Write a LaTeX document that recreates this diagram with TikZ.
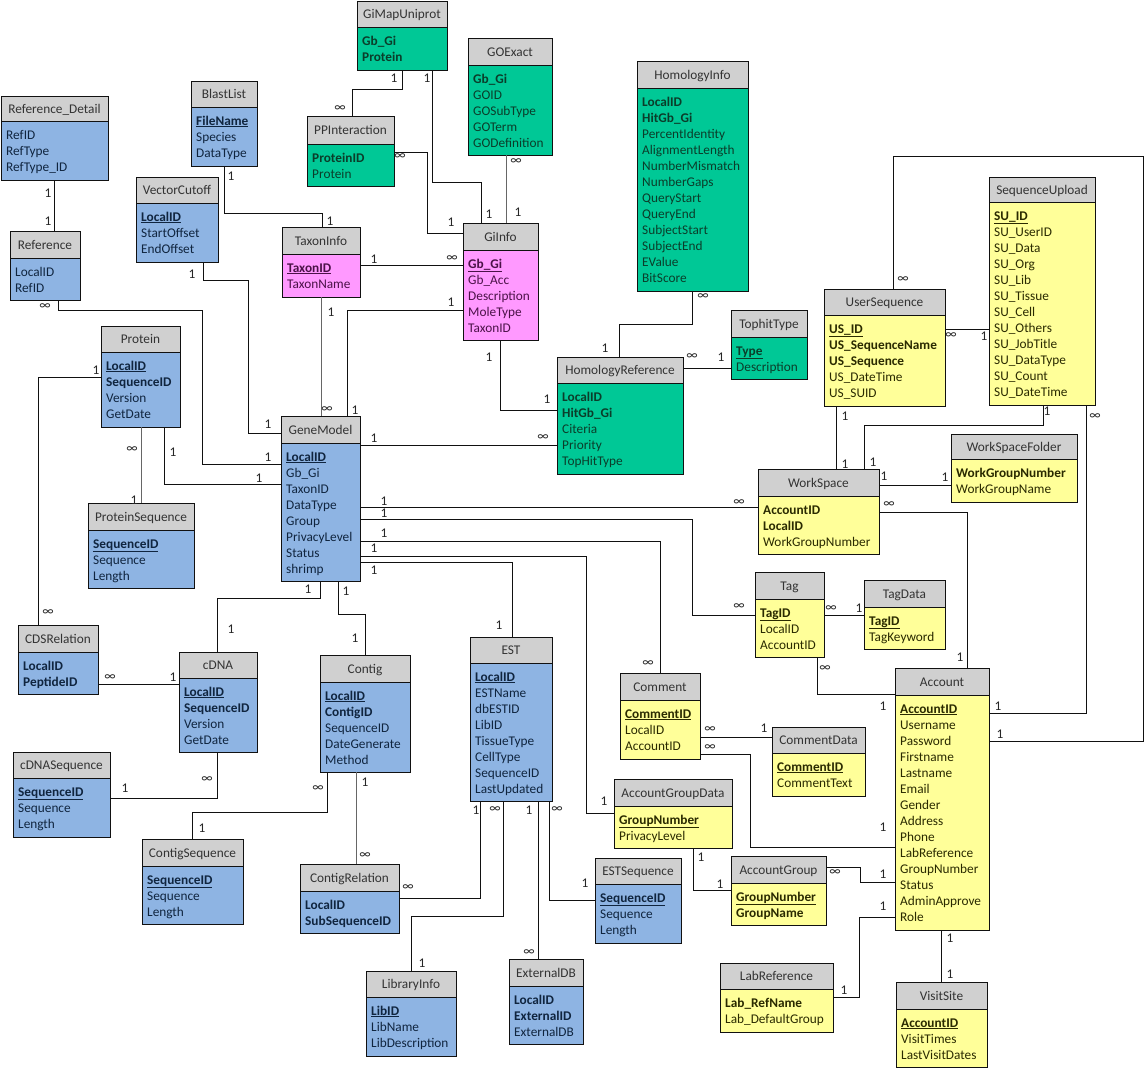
\documentclass[tikz,border=0pt]{standalone}
\usepackage{fontspec}
\setmainfont{Carlito}
\usetikzlibrary{fit}
\definecolor{bluefill}{HTML}{8EB4E3}
\definecolor{bluetext}{HTML}{10253F}
\definecolor{greenfill}{HTML}{00C896}
\definecolor{greentext}{HTML}{0B3D2A}
\definecolor{pinkfill}{HTML}{FF99FF}
\definecolor{pinktext}{HTML}{4B1248}
\definecolor{yellowfill}{HTML}{FFFF99}
\definecolor{yellowtext}{HTML}{2A2A00}
\definecolor{headfill}{HTML}{D0D0D0}
\definecolor{headtext}{HTML}{333333}
\definecolor{linecol}{HTML}{111111}
\newcommand\rown[1]{#1}
\newcommand\rowb[1]{\textbf{#1}}
\newcommand\rowu[1]{\underline{\textbf{#1}}}
\newcommand\inff{∞}
\tikzset{
 tbody/.style={inner sep=0pt, outer sep=0pt},
 tline/.style={line width=1pt, draw=linecol},
 htitle/.style={font=\fontsize{13.3}{16}\selectfont, text=headtext, inner sep=0pt, anchor=base},
 field/.style={font=\fontsize{13.3}{16}\selectfont, inner sep=0pt, anchor=base west},
 conn/.style={line width=1pt, draw=linecol},
 conng/.style={line width=1pt, draw=black!60},
 lbl/.style={font=\fontsize{13.3}{16}\selectfont, text=black!85, inner sep=0pt},
}
% #1 name, #2 x1, #3 y1, #4 x2, #5 y2, #6 header bottom, #7 colour, #8 title, #9 rows
\newcommand\mktbl[9]{%
  \node[tbody, fill=#7fill, fit={(#2,#3)(#4,#5)}] (#1) {};
  \fill[headfill] (#2,#3) rectangle (#4,#6);
  \draw[tline] (#2,#6) -- (#4,#6);
  \draw[tline] (#1.north west) rectangle (#1.south east);
  \node[htitle] (#1-t) at ({(#2+#4)/2},{(#3+#6)/2+4.5}) {#8};
  \foreach \st/\tx [count=\i from 0] in {#9} {
    \node[field, text=#7text] (#1-r\i) at ({#2+5},{#6+18+16*\i}) {\csname row\st\endcsname{\tx}};
  }%
}
\begin{document}
\begin{tikzpicture}[x=1pt,y=-1pt]
\fill[white] (0,0) rectangle (1144,1069);
\useasboundingbox (0,0) rectangle (1144,1069);

% ---------- tables ----------
\mktbl{RefDetail}{1}{96}{108}{180}{121}{blue}{Reference\_Detail}{n/RefID,n/RefType,n/RefType\_ID}
\mktbl{Reference}{10}{231}{80}{300}{258}{blue}{Reference}{n/LocalID,n/RefID}
\mktbl{BlastList}{191}{81}{257}{166}{107}{blue}{BlastList}{u/FileName,n/Species,n/DataType}
\mktbl{VectorCutoff}{136}{177}{218}{262}{203}{blue}{VectorCutoff}{u/LocalID,n/StartOffset,n/EndOffset}
\mktbl{Protein}{101}{326}{180}{427}{352}{blue}{Protein}{u/LocalID,b/SequenceID,n/Version,n/GetDate}
\mktbl{ProteinSequence}{88}{503}{194}{588}{530}{blue}{ProteinSequence}{u/SequenceID,n/Sequence,n/Length}
\mktbl{CDSRelation}{18}{625}{98}{694}{652}{blue}{CDSRelation}{b/LocalID,b/PeptideID}
\mktbl{cDNA}{179}{652}{257}{752}{678}{blue}{cDNA}{u/LocalID,b/SequenceID,n/Version,n/GetDate}
\mktbl{cDNASequence}{13}{752}{110}{837}{778}{blue}{cDNASequence}{u/SequenceID,n/Sequence,n/Length}
\mktbl{ContigSequence}{142}{839}{243}{924}{866}{blue}{ContigSequence}{u/SequenceID,n/Sequence,n/Length}
\mktbl{GiMapUniprot}{357}{1}{447}{70}{27}{green}{GiMapUniprot}{b/Gb\_Gi,b/Protein}
\mktbl{GOExact}{468}{38}{552}{155}{65}{green}{GOExact}{b/Gb\_Gi,n/GOID,n/GOSubType,n/GOTerm,n/GODefinition}
\mktbl{PPInteraction}{307}{116}{394}{186}{144}{green}{PPInteraction}{b/ProteinID,n/Protein}
\mktbl{TaxonInfo}{282}{227}{360}{297}{254}{pink}{TaxonInfo}{u/TaxonID,n/TaxonName}
\mktbl{GiInfo}{463}{223}{538}{340}{250}{pink}{GiInfo}{u/Gb\_Gi,n/Gb\_Acc,n/Description,n/MoleType,n/TaxonID}
\mktbl{HomologyInfo}{637}{61}{748}{291}{88}{green}{HomologyInfo}{b/LocalID,b/HitGb\_Gi,n/PercentIdentity,n/AlignmentLength,n/NumberMismatch,n/NumberGaps,n/QueryStart,n/QueryEnd,n/SubjectStart,n/SubjectEnd,n/EValue,n/BitScore}
\mktbl{TophitType}{731}{310}{807}{379}{337}{green}{TophitType}{u/Type,n/Description}
\mktbl{UserSequence}{824}{289}{945}{406}{315}{yellow}{UserSequence}{u/US\_ID,b/US\_SequenceName,b/US\_Sequence,n/US\_DateTime,n/US\_SUID}
\mktbl{SequenceUpload}{989}{177}{1095}{405}{202}{yellow}{SequenceUpload}{u/SU\_ID,n/SU\_UserID,n/SU\_Data,n/SU\_Org,n/SU\_Lib,n/SU\_Tissue,n/SU\_Cell,n/SU\_Others,n/SU\_JobTitle,n/SU\_DataType,n/SU\_Count,n/SU\_DateTime}
\mktbl{GeneModel}{281}{416}{360}{581}{443}{blue}{GeneModel}{u/LocalID,n/Gb\_Gi,n/TaxonID,n/DataType,n/Group,n/PrivacyLevel,n/Status,n/shrimp}
\mktbl{HomRef}{557}{357}{683}{474}{383}{green}{HomologyReference}{b/LocalID,b/HitGb\_Gi,n/Citeria,n/Priority,n/TopHitType}
\mktbl{Contig}{320}{655}{410}{772}{682}{blue}{Contig}{u/LocalID,b/ContigID,n/SequenceID,n/DateGenerate,n/Method}
\mktbl{EST}{470}{637}{552}{801}{663}{blue}{EST}{u/LocalID,n/ESTName,n/dbESTID,n/LibID,n/TissueType,n/CellType,n/SequenceID,n/LastUpdated}
\mktbl{ContigRelation}{300}{864}{399}{933}{891}{blue}{ContigRelation}{b/LocalID,b/SubSequenceID}
\mktbl{LibraryInfo}{366}{971}{456}{1056}{997}{blue}{LibraryInfo}{u/LibID,n/LibName,n/LibDescription}
\mktbl{ExternalDB}{509}{959}{583}{1044}{986}{blue}{ExternalDB}{b/LocalID,b/ExternalID,n/ExternalDB}
\mktbl{WorkSpace}{758}{469}{879}{554}{496}{yellow}{WorkSpace}{b/AccountID,b/LocalID,n/WorkGroupNumber}
\mktbl{Tag}{755}{572}{824}{657}{599}{yellow}{Tag}{u/TagID,n/LocalID,n/AccountID}
\mktbl{Comment}{620}{673}{700}{759}{700}{yellow}{Comment}{u/CommentID,n/LocalID,n/AccountID}
\mktbl{WorkSpaceFolder}{951}{434}{1077}{502}{459}{yellow}{WorkSpaceFolder}{b/WorkGroupNumber,n/WorkGroupName}
\mktbl{TagData}{864}{580}{945}{649}{607}{yellow}{TagData}{u/TagID,n/TagKeyword}
\mktbl{Account}{895}{668}{989}{930}{695}{yellow}{Account}{u/AccountID,n/Username,n/Password,n/Firstname,n/Lastname,n/Email,n/Gender,n/Address,n/Phone,n/LabReference,n/GroupNumber,n/Status,n/AdminApprove,n/Role}
\mktbl{VisitSite}{896}{982}{987}{1067}{1009}{yellow}{VisitSite}{u/AccountID,n/VisitTimes,n/LastVisitDates}
\mktbl{CommentData}{772}{727}{865}{796}{753}{yellow}{CommentData}{u/CommentID,n/CommentText}
\mktbl{AccountGroupData}{614}{779}{732}{848}{806}{yellow}{AccountGroupData}{u/GroupNumber,n/PrivacyLevel}
\mktbl{ESTSequence}{595}{858}{681}{943}{884}{blue}{ESTSequence}{u/SequenceID,n/Sequence,n/Length}
\mktbl{AccountGroup}{731}{856}{826}{925}{883}{yellow}{AccountGroup}{u/GroupNumber,b/GroupName}
\mktbl{LabReference}{720}{963}{833}{1032}{989}{yellow}{LabReference}{b/Lab\_RefName,n/Lab\_DefaultGroup}

% ---------- connectors ----------
\draw[conn] (54,0 |- RefDetail.south) -- (54,0 |- Reference.north);
\draw[conn] (58,0 |- Reference.south) -- (58,310) -- (202,310) -- (202,464) -- (GeneModel.west |- 0,464);
\draw[conn] (203,0 |- VectorCutoff.south) -- (203,280) -- (248,280) -- (248,433) -- (GeneModel.west |- 0,433);
\draw[conn] (224,0 |- BlastList.south) -- (224,213) -- (322,213) -- (322,0 |- TaxonInfo.north);
\draw[conn] (164,0 |- Protein.south) -- (164,484) -- (GeneModel.west |- 0,484);
\draw[conng] (141,0 |- Protein.south) -- (141,0 |- ProteinSequence.north);
\draw[conn] (Protein.west |- 0,377) -- (38,377) -- (38,0 |- CDSRelation.north);
\draw[conn] (CDSRelation.east |- 0,684) -- (cDNA.west |- 0,684);
\draw[conn] (320,0 |- GeneModel.south) -- (320,598) -- (217,598) -- (217,0 |- cDNA.north);
\draw[conn] (338,0 |- GeneModel.south) -- (338,614) -- (365,614) -- (365,0 |- Contig.north);
\draw[conn] (217,0 |- cDNA.south) -- (217,798) -- (cDNASequence.east |- 0,798);
\draw[conn] (327,0 |- Contig.south) -- (327,812) -- (192,812) -- (192,0 |- ContigSequence.north);
\draw[conng] (356,0 |- Contig.south) -- (356,0 |- ContigRelation.north);
\draw[conn] (480,0 |- EST.south) -- (480,898) -- (ContigRelation.east |- 0,898);
\draw[conn] (503,0 |- EST.south) -- (503,916) -- (411,916) -- (411,0 |- LibraryInfo.north);
\draw[conn] (538,0 |- EST.south) -- (538,0 |- ExternalDB.north);
\draw[conn] (549,0 |- EST.south) -- (549,900) -- (ESTSequence.west |- 0,900);
\draw[conn] (GeneModel.east |- 0,562) -- (512,562) -- (512,0 |- EST.north);
\draw[conn] (GeneModel.east |- 0,445) -- (HomRef.west |- 0,445);
\draw[conn] (500,0 |- GiInfo.south) -- (500,410) -- (HomRef.west |- 0,410);
\draw[conn] (692,0 |- HomologyInfo.south) -- (692,324) -- (619,324) -- (619,0 |- HomRef.north);
\draw[conn] (HomRef.east |- 0,368) -- (TophitType.west |- 0,368);
\draw[conn] (402,0 |- GiMapUniprot.south) -- (402,89) -- (352,89) -- (352,0 |- PPInteraction.north);
\draw[conn] (432,0 |- GiMapUniprot.south) -- (432,182) -- (481,182) -- (481,0 |- GiInfo.north);
\draw[conn] (PPInteraction.east |- 0,152) -- (427,152) -- (427,233) -- (GiInfo.west |- 0,233);
\draw[conng] (506,0 |- GOExact.south) -- (506,0 |- GiInfo.north);
\draw[conn] (TaxonInfo.east |- 0,265) -- (GiInfo.west |- 0,265);
\draw[conng] (321,0 |- TaxonInfo.south) -- (321,0 |- GeneModel.north);
\draw[conn] (GiInfo.west |- 0,310) -- (347,310) -- (347,0 |- GeneModel.north);
\draw[conn] (GeneModel.east |- 0,507) -- (WorkSpace.west |- 0,507);
\draw[conn] (GeneModel.east |- 0,519) -- (692,519) -- (692,615) -- (Tag.west |- 0,615);
\draw[conn] (GeneModel.east |- 0,541) -- (660,541) -- (660,0 |- Comment.north);
\draw[conn] (GeneModel.east |- 0,556) -- (586,556) -- (586,813) -- (AccountGroupData.west |- 0,813);
\draw[conn] (Tag.east |- 0,615) -- (TagData.west |- 0,615);
\draw[conn] (817,0 |- Tag.south) -- (817,694) -- (Account.west |- 0,694);
\draw[conn] (WorkSpace.east |- 0,512) -- (967,512) -- (967,0 |- Account.north);
\draw[conn] (WorkSpace.east |- 0,485) -- (WorkSpaceFolder.west |- 0,485);
\draw[conn] (836,0 |- UserSequence.south) -- (836,0 |- WorkSpace.north);
\draw[conn] (1043,0 |- SequenceUpload.south) -- (1043,425) -- (864,425) -- (864,0 |- WorkSpace.north);
\draw[conn] (UserSequence.east |- 0,329) -- (SequenceUpload.west |- 0,329);
\draw[conn] (893,0 |- UserSequence.north) -- (893,156) -- (1143,156) -- (1143,741) -- (Account.east |- 0,741);
\draw[conn] (1086,0 |- SequenceUpload.south) -- (1086,713) -- (Account.east |- 0,713);
\draw[conn] (Comment.east |- 0,737) -- (CommentData.west |- 0,737);
\draw[conn] (Comment.east |- 0,754) -- (750,754) -- (750,847) -- (Account.west |- 0,847);
\draw[conn] (693,0 |- AccountGroupData.south) -- (693,890) -- (AccountGroup.west |- 0,890);
\draw[conn] (AccountGroup.east |- 0,867) -- (860,867) -- (860,882) -- (Account.west |- 0,882);
\draw[conn] (LabReference.east |- 0,997) -- (859,997) -- (859,917) -- (Account.west |- 0,917);
\draw[conn] (941,0 |- Account.south) -- (941,0 |- VisitSite.north);

% ---------- cardinality labels ----------
\node[lbl] (m1) at (48,193) {1};
\node[lbl] (m2) at (48,221) {1};
\node[lbl] (m3) at (45,307) {\inff};
\node[lbl] (m4) at (268,457) {1};
\node[lbl] (m5) at (192,274) {1};
\node[lbl] (m6) at (268,424) {1};
\node[lbl] (m7) at (231,176) {1};
\node[lbl] (m8) at (330,221) {1};
\node[lbl] (m9) at (173,452) {1};
\node[lbl] (m10) at (259,478) {1};
\node[lbl] (m11) at (132,450) {\inff};
\node[lbl] (m12) at (134,500) {1};
\node[lbl] (m13) at (96,370) {1};
\node[lbl] (m14) at (48,613) {\inff};
\node[lbl] (m15) at (110,678) {\inff};
\node[lbl] (m16) at (173,677) {1};
\node[lbl] (m17) at (308,589) {1};
\node[lbl] (m18) at (231,629) {1};
\node[lbl] (m19) at (346,591) {1};
\node[lbl] (m20) at (355,638) {1};
\node[lbl] (m21) at (207,780) {\inff};
\node[lbl] (m22) at (125,788) {1};
\node[lbl] (m23) at (318,789) {\inff};
\node[lbl] (m24) at (202,828) {1};
\node[lbl] (m25) at (365,782) {1};
\node[lbl] (m26) at (365,856) {\inff};
\node[lbl] (m27) at (476,810) {1};
\node[lbl] (m28) at (408,888) {\inff};
\node[lbl] (m29) at (495,810) {\inff};
\node[lbl] (m30) at (422,963) {1};
\node[lbl] (m31) at (529,810) {1};
\node[lbl] (m32) at (529,953) {\inff};
\node[lbl] (m33) at (557,810) {\inff};
\node[lbl] (m34) at (585,883) {1};
\node[lbl] (m35) at (374,570) {1};
\node[lbl] (m36) at (499,625) {1};
\node[lbl] (m37) at (374,438) {1};
\node[lbl] (m38) at (543,438) {\inff};
\node[lbl] (m39) at (489,357) {1};
\node[lbl] (m40) at (547,399) {1};
\node[lbl] (m41) at (703,297) {\inff};
\node[lbl] (m42) at (605,348) {1};
\node[lbl] (m43) at (692,357) {\inff};
\node[lbl] (m44) at (721,357) {1};
\node[lbl] (m45) at (394,78) {1};
\node[lbl] (m46) at (340,109) {\inff};
\node[lbl] (m47) at (427,78) {1};
\node[lbl] (m48) at (489,214) {1};
\node[lbl] (m49) at (400,157) {\inff};
\node[lbl] (m50) at (451,222) {1};
\node[lbl] (m51) at (516,162) {\inff};
\node[lbl] (m52) at (518,212) {1};
\node[lbl] (m53) at (374,259) {1};
\node[lbl] (m54) at (452,259) {\inff};
\node[lbl] (m55) at (331,312) {1};
\node[lbl] (m56) at (327,410) {\inff};
\node[lbl] (m57) at (451,302) {1};
\node[lbl] (m58) at (355,410) {1};
\node[lbl] (m59) at (384,501) {1};
\node[lbl] (m60) at (739,503) {\inff};
\node[lbl] (m61) at (384,513) {1};
\node[lbl] (m62) at (739,607) {\inff};
\node[lbl] (m63) at (384,533) {1};
\node[lbl] (m64) at (648,664) {\inff};
\node[lbl] (m65) at (374,548) {1};
\node[lbl] (m66) at (604,801) {1};
\node[lbl] (m67) at (831,609) {\inff};
\node[lbl] (m68) at (859,608) {1};
\node[lbl] (m69) at (825,669) {\inff};
\node[lbl] (m70) at (883,706) {1};
\node[lbl] (m71) at (889,505) {\inff};
\node[lbl] (m72) at (960,657) {1};
\node[lbl] (m73) at (884,476) {1};
\node[lbl] (m74) at (945,477) {1};
\node[lbl] (m75) at (845,416) {1};
\node[lbl] (m76) at (845,464) {1};
\node[lbl] (m77) at (1047,411) {1};
\node[lbl] (m78) at (873,462) {1};
\node[lbl] (m79) at (951,336) {\inff};
\node[lbl] (m80) at (984,336) {1};
\node[lbl] (m81) at (903,280) {\inff};
\node[lbl] (m82) at (1000,734) {1};
\node[lbl] (m83) at (1095,417) {\inff};
\node[lbl] (m84) at (998,706) {1};
\node[lbl] (m85) at (710,730) {\inff};
\node[lbl] (m86) at (764,728) {1};
\node[lbl] (m87) at (710,748) {\inff};
\node[lbl] (m88) at (883,827) {1};
\node[lbl] (m89) at (701,857) {1};
\node[lbl] (m90) at (720,884) {1};
\node[lbl] (m91) at (835,873) {\inff};
\node[lbl] (m92) at (883,874) {1};
\node[lbl] (m93) at (844,990) {1};
\node[lbl] (m94) at (883,906) {1};
\node[lbl] (m95) at (950,938) {1};
\node[lbl] (m96) at (950,974) {1};
\end{tikzpicture}
\end{document}
